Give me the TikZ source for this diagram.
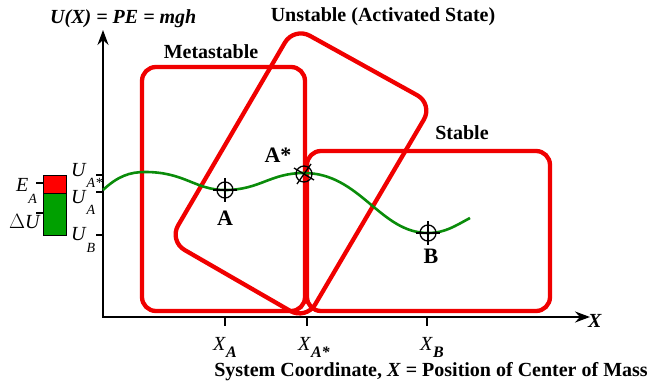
\documentclass[tikz,border=0pt]{standalone}
\usepackage{fontspec}
\setmainfont{Liberation Serif}
\usetikzlibrary{arrows.meta}
\definecolor{curvegreen}{RGB}{10,140,10}
\definecolor{bargreen}{RGB}{0,160,0}
\definecolor{boxred}{RGB}{240,0,0}
\begin{document}
\begin{tikzpicture}[x=1pt,y=-1pt,
  big/.style={font=\fontsize{20}{24}\selectfont\bfseries, inner sep=0pt},
  pt/.style={font=\fontsize{22}{26}\selectfont\bfseries, inner sep=0pt},
  lab/.style={font=\fontsize{20}{24}\selectfont, inner sep=0pt, anchor=base west},
  box/.style={draw=boxred, line width=4.3pt, rounded corners=14pt},
  axis/.style={line width=2.2pt, {Stealth[length=15pt,width=11pt,inset=5pt]}-{Stealth[length=15pt,width=11pt,inset=5pt]}},
  tickl/.style={line width=1.1pt},
  mcirc/.style={circle, draw, line width=1.3pt, minimum size=16pt, inner sep=0pt},
  crossl/.style={line width=1.3pt},
  energy/.style={draw=curvegreen, line width=2.6pt}
]
\useasboundingbox (0,0) rectangle (652,387);

% boxes
\draw[box] (142,67) rectangle (305,311);
\draw[box] (307,151) rectangle (550,311);
\draw[box, rounded corners=18pt] (294,27) -- (433,104) -- (306,320) -- (169,241) -- cycle;

% axes
\coordinate (O) at (103,317);
\coordinate (xe) at (590,317);
\coordinate (ye) at (103,30);
\draw[axis] (ye) -- (O) -- (xe);

% x ticks
\coordinate (tA) at (225,317);
\coordinate (tAs) at (307,317);
\coordinate (tB) at (427,317);
\draw[tickl] (tA) -- +(0,9);
\draw[tickl] (tAs) -- +(0,9);
\draw[tickl] (tB) -- +(0,9);

% y ticks
\coordinate (yAs) at (103,175);
\coordinate (yA) at (103,192);
\coordinate (yB) at (103,235);
\draw[tickl] (yAs) -- +(-7,0);
\draw[tickl] (yA) -- +(-7,0);
\draw[tickl] (yB) -- +(-7,0);

% energy curve
\draw[energy] (103,190) .. controls (118,176) and (130,172) .. (145,172)
  .. controls (185,172) and (195,190) .. (225,190)
  .. controls (260,190) and (270,173) .. (304,173)
  .. controls (360,173) and (380,233) .. (428,233)
  .. controls (445,233) and (455,226) .. (470,218);

% markers
\node[mcirc] (mA) at (225,190) {};
\draw[crossl] (mA) +(0,-12) -- +(0,12) (mA) +(-12,0) -- +(12,0);
\node[mcirc] (mAs) at (304,174) {};
\draw[crossl] (mAs) +(7,-10) -- +(-7,10) (mAs) +(-10,-6) -- +(10,6);
\node[mcirc] (mB) at (428,233) {};
\draw[crossl] (mB) +(0,-12) -- +(0,12) (mB) +(-12,0) -- +(12,0);

% point labels
\node[pt] (lA) at (225,218) {A};
\node[pt] (lAs) at (278,155) {A*};
\node[pt] (lB) at (431,256) {B};

% region labels
\node[big] (meta) at (211,52) {Metastable};
\node[big] (stab) at (462,133) {Stable};
\node[big] (unst) at (383,17) {Unstable (Activated State)};

% axis labels
\node[lab, font=\fontsize{20}{24}\selectfont\bfseries\itshape] (ylab) at (50,24) {U(X) = PE = mgh};
\node[lab, font=\fontsize{20}{24}\selectfont\bfseries\itshape] (xlab) at (588,327) {X};
\node[big] (cap) at (431,372) {System Coordinate, \textit{X} = Position of Center of Mass};

% x tick labels
\node[lab] (xA) at (213,350) {\textit{X}\raisebox{-7pt}{\fontsize{16}{16}\selectfont\bfseries\itshape A}};
\node[lab] (xAs) at (298,350) {\textit{X}\raisebox{-7pt}{\fontsize{16}{16}\selectfont\bfseries\itshape A*}};
\node[lab] (xB) at (420,350) {\textit{X}\raisebox{-7pt}{\fontsize{16}{16}\selectfont\bfseries\itshape B}};

% y tick labels
\node[lab] (uAs) at (71,177) {\textit{U}\raisebox{-11pt}{\fontsize{14}{14}\selectfont\itshape A*}};
\node[lab] (uA) at (71,204) {\textit{U}\raisebox{-11pt}{\fontsize{14}{14}\selectfont\itshape A}};
\node[lab] (uB) at (71,240) {\textit{U}\raisebox{-12pt}{\fontsize{14}{14}\selectfont\itshape B}};

% energy bar
\draw[fill=red, line width=0.8pt] (43,175) rectangle (66,193);
\draw[fill=bargreen, line width=0.8pt] (43,193) rectangle (66,235);
\coordinate (eAt) at (43,183);
\coordinate (dUt) at (43,213);
\draw[tickl] (eAt) -- +(-7,0);
\draw[tickl] (dUt) -- +(-7,0);
\node[lab] (eA) at (16,192) {\textit{E}\raisebox{-12pt}{\fontsize{14}{14}\selectfont\itshape A}};
\node[lab] (dU) at (9,229) {$\Delta$\textit{U}};
\end{tikzpicture}
\end{document}
